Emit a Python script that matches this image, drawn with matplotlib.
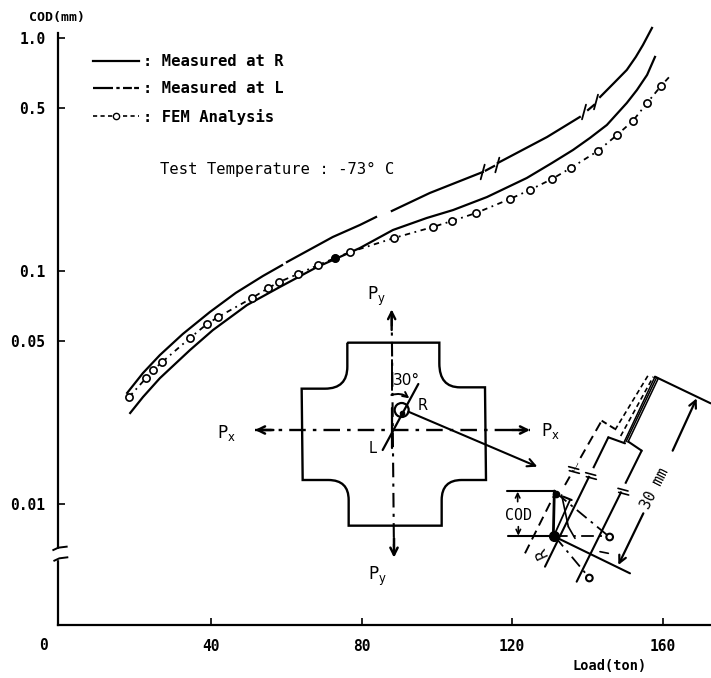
#!/usr/bin/env python

# COD against load, with the cruciform specimen sketch drawn on top

import numpy as np
import matplotlib
matplotlib.use("Agg")
import matplotlib.pyplot as plt
from matplotlib.lines import Line2D
from matplotlib.patches import PathPatch, Circle, Rectangle
from matplotlib.path import Path

plt.rcParams['font.family'] = ['DejaVu Sans Mono']
plt.rcParams['mathtext.fontset'] = 'custom'
plt.rcParams['mathtext.rm'] = 'DejaVu Sans'

W, H = 711, 678
nan = float('nan')

# upper curve, nan where the printed line is broken
load_l = [17.6, 21.8, 26.3, 32.4, 39.6, 46.5, 53.7, 58.8, nan, 60.1, 72.3, 79.5, 83.8, nan,
          88.0, 98.1, 112.2, nan, 113.0, 115.2, nan, 116.2, 129.3, 138.0, nan,
          140.2, 141.8, nan, 143.4, 147.1, 150.5, 152.9, 154.8, 157.2]
cod_l = [0.0300, 0.0365, 0.0436, 0.0537, 0.0667, 0.0806, 0.0952, 0.106, nan, 0.1093, 0.140, 0.1576, 0.1705, nan,
         0.181, 0.2162, 0.266, nan, 0.270, 0.282, nan, 0.2908, 0.3759, 0.458, nan,
         0.491, 0.516, nan, 0.558, 0.641, 0.729, 0.829, 0.933, 1.104]

# lower curve
load_r = [18.4, 21.8, 26.3, 34.3, 40.4, 49.5, 58.2, 68.1, 79.5, 88.3, 97.3, 104.3,
          113.3, 123.9, 130.6, 136.2, 140.7, 145.2, 150.5, 153.2, 155.9, 158.0]
cod_r = [0.0246, 0.0288, 0.0347, 0.0458, 0.0558, 0.0715, 0.0854, 0.104, 0.1255, 0.150, 0.1689, 0.1827,
         0.2077, 0.2507, 0.2908, 0.3307, 0.3723, 0.4233, 0.526, 0.598, 0.694, 0.829]

# FEM points
load_fem = [18.1, 22.6, 24.5, 26.9, 34.3, 38.8, 41.8, 50.8, 55.1, 58.0, 63.0, 68.4, 72.9, 76.9,
            88.6, 98.9, 104.0, 110.4, 119.4, 124.7, 130.6, 135.6, 142.8, 147.9, 152.1, 155.9, 159.6, 162.5]
cod_fem = [0.0288, 0.0347, 0.0376, 0.0407, 0.0516, 0.0592, 0.0635, 0.0766, 0.0845, 0.0897, 0.0971, 0.1061,
           0.1137, 0.1206, 0.1386, 0.1545, 0.1639, 0.1774, 0.2037, 0.2227, 0.2482, 0.2767, 0.3273, 0.3834,
           0.4403, 0.526, 0.6223, 0.700]
fem_last_marked = 26  # the final stretch has no circle

xticks = [40, 80, 120, 160]
yticks = [1.0, 0.5, 0.1, 0.05, 0.01]
ylabels = ['1.0', '0.5', '0.1', '0.05', '0.01']

fig = plt.figure(figsize=(W / 100, H / 100), dpi=100)
ax = fig.add_axes([58 / W, (H - 625) / H, (W - 58) / W, (625 - 33) / H])
ax.set_yscale('log')
ax.set_xlim(-0.8, 172.9)
ax.set_ylim(0.00303, 1.05)

line_kw = dict(color='black', lw=1.6, clip_on=False)
ax.plot(load_l, cod_l, **line_kw)
ax.plot(load_r, cod_r, **line_kw)
ax.plot(load_fem, cod_fem, color='black', lw=1.3, dashes=(3, 2.5, 1, 2.5), clip_on=False)
ax.plot(load_fem[:fem_last_marked + 1], cod_fem[:fem_last_marked + 1], ls='none', marker='o', ms=5.2,
        mfc='white', mec='black', mew=1.2, clip_on=False)
ax.plot(load_fem[12], cod_fem[12], ls='none', marker='o', ms=5, color='black')

ax.spines['top'].set_visible(False)
ax.spines['right'].set_visible(False)
ax.spines['left'].set_linewidth(1.6)
ax.spines['bottom'].set_linewidth(1.6)
ax.set_xticks(xticks)
ax.set_xticklabels([str(t) for t in xticks], fontsize=10.5, fontweight='bold')
ax.set_yticks(yticks)
ax.set_yticklabels(ylabels, fontsize=10.5, fontweight='bold')
ax.minorticks_off()
ax.tick_params(axis='y', which='major', direction='in', length=5, width=1.2, pad=9)
ax.tick_params(axis='x', which='major', direction='in', length=5, width=1.2, pad=10)

handles = [Line2D([], [], color='black', lw=1.6),
           Line2D([], [], color='black', lw=1.6, dashes=(9, 1.5, 1.5, 1.5, 4, 1)),
           Line2D([], [], color='black', lw=1.2, dashes=(2.5, 2), marker='o', ms=4.5,
                  mfc='white', mec='black', mew=1)]
labels = [': Measured at R', ': Measured at L', ': FEM Analysis']
leg = fig.legend(handles, labels, loc='upper left', bbox_to_anchor=(93 / W, 1 - 54 / H), frameon=False,
                 handlelength=2.95, handletextpad=0.25, labelspacing=0.8, borderpad=0, borderaxespad=0,
                 prop={'size': 11.2, 'weight': 'bold'})

fig.text(44 / W, 1 - 645 / H, '0', fontsize=10.5, fontweight='bold', ha='center', va='center')
fig.text(57 / W, 1 - 18 / H, 'COD(mm)', fontsize=9.5, fontweight='bold', ha='center', va='center')
fig.text(610 / W, 1 - 666 / H, 'Load(ton)', fontsize=9.8, fontweight='bold', ha='center', va='center')
fig.text(160 / W, 1 - 169 / H, 'Test Temperature : -73\u00b0 C', fontsize=11.2, ha='left', va='center')


def sketch_axes(x, y, w, h):
    # overlay whose units are 3x crop pixels of the reference
    a = fig.add_axes([x / W, 1 - (y + h) / H, w / W, h / H])
    a.set_xlim(0, w * 3)
    a.set_ylim(h * 3, 0)
    a.axis('off')
    a.patch.set_alpha(0)
    return a


def seg(a, x1, y1, x2, y2, ls='-', lw=1.5):
    a.plot([x1, x2], [y1, y2], color='black', ls=ls, lw=lw, solid_capstyle='round', clip_on=False)


def arrow(a, x1, y1, x2, y2, lw=1.6, ms=13, conn=None):
    a.annotate('', xy=(x2, y2), xytext=(x1, y1),
               arrowprops=dict(arrowstyle='->', color='black', lw=lw, mutation_scale=ms,
                               shrinkA=0, shrinkB=0, connectionstyle=conn or 'arc3'))


dashdot = (0, (7, 3, 1.5, 3))

# axis break and curve slashes, whole figure overlay
page = sketch_axes(0, 0, W, H)
page.add_patch(Rectangle((150, 1648), 60, 28, color='white', zorder=3))
page.plot([160, 175, 200], [1650, 1643, 1640], color='black', lw=1.4, zorder=4)
page.plot([163, 178, 202], [1682, 1675, 1672], color='black', lw=1.4, zorder=4)
for sx, sy in [(1448, 516), (1492, 495), (1752, 336), (1788, 306)]:
    seg(page, sx - 6, sy + 22, sx + 6, sy - 22, lw=1.3)

# specimen sketch
sp = sketch_axes(230, 280, 481, 340)
verts = [(352, 188), (628, 188), (628, 250), (628, 322), (690, 322), (765, 322), (768, 600), (695, 600),
         (635, 600), (635, 660), (635, 737), (356, 737), (356, 660), (356, 600), (295, 600), (218, 600),
         (215, 326), (285, 326), (352, 326), (352, 260), (352, 188)]
codes = [Path.MOVETO, Path.LINETO, Path.LINETO, Path.CURVE3, Path.CURVE3, Path.LINETO, Path.LINETO, Path.LINETO,
         Path.CURVE3, Path.CURVE3, Path.LINETO, Path.LINETO, Path.LINETO, Path.CURVE3, Path.CURVE3, Path.LINETO,
         Path.LINETO, Path.LINETO, Path.CURVE3, Path.CURVE3, Path.LINETO]
sp.add_patch(PathPatch(Path(verts, codes), fill=False, lw=1.7, ec='black'))

seg(sp, 75, 450, 900, 450, ls=dashdot, lw=1.7)
seg(sp, 485, 95, 492, 825, ls=dashdot, lw=1.5)
arrow(sp, 130, 450, 75, 450, lw=1.8)
arrow(sp, 845, 450, 900, 450, lw=1.8)
arrow(sp, 485, 150, 485, 88, lw=1.7)
arrow(sp, 492, 775, 492, 833, lw=1.8)
seg(sp, 485, 240, 485, 330, lw=1.4)
seg(sp, 487, 385, 487, 505, lw=1.6)
seg(sp, 458, 510, 565, 312, lw=1.6)
sp.add_patch(Circle((515, 390), 21, fill=False, lw=1.6, ec='black'))
sp.plot([515], [398], marker='o', ms=3, color='black')
arrow(sp, 484, 345, 538, 355, lw=1.4, ms=9, conn='arc3,rad=-0.25')
arrow(sp, 535, 395, 922, 560, lw=1.5, ms=14)

sp.text(530, 302, '30\u00b0', fontsize=11, ha='center', va='center', family='DejaVu Sans')
sp.text(578, 378, 'R', fontsize=10.5, ha='center', va='center', family='DejaVu Sans')
sp.text(428, 505, 'L', fontsize=10.5, ha='center', va='center', family='DejaVu Sans')
for tx, ty, s in [(440, 48, r'$\mathregular{P_y}$'), (443, 888, r'$\mathregular{P_y}$'),
                  (962, 452, r'$\mathregular{P_x}$'), (-10, 458, r'$\mathregular{P_x}$')]:
    sp.text(tx, ty, s, fontsize=12, ha='center', va='center', family='DejaVu Sans')

# detail of the crack tip
dt = sketch_axes(500, 360, 211, 240)
seg(dt, 135, 620, 325, 232)
seg(dt, 325, 232, 375, 250)
seg(dt, 385, 245, 425, 272)
seg(dt, 425, 272, 230, 665)
seg(dt, 195, 375, 305, 182, ls=(0, (5, 3)), lw=1.4)
seg(dt, 305, 182, 345, 207, ls=(0, (3, 2)), lw=1.4)
seg(dt, 75, 580, 160, 410, ls=(0, (5, 3)), lw=1.4)
seg(dt, 345, 210, 445, 45, ls=(0, (3, 2)), lw=1.2)
seg(dt, 362, 228, 460, 50, ls=(0, (3, 2)), lw=1.2)
seg(dt, 373, 245, 465, 50, lw=1.1)
seg(dt, 378, 245, 470, 52, lw=1.1)
seg(dt, 384, 246, 475, 55, lw=1.1)
seg(dt, 465, 50, 632, 130)
seg(dt, 160, 528, 390, 640)
arrow(dt, 518, 272, 590, 115)
arrow(dt, 430, 460, 355, 615)
dt.text(465, 385, '30 mm', fontsize=10.5, rotation=63, ha='center', va='center')
seg(dt, 20, 393, 165, 393)
seg(dt, 25, 527, 160, 527)
arrow(dt, 53, 425, 53, 395, ms=8, lw=1.2)
arrow(dt, 55, 500, 55, 527, ms=8, lw=1.2)
dt.text(55, 467, 'COD', fontsize=10.8, ha='center', va='center')
seg(dt, 163, 393, 160, 527, lw=2)
dt.plot([168], [402], marker='o', ms=4.5, color='black')
dt.plot([163], [528], marker='o', ms=7, color='black')
seg(dt, 170, 400, 325, 528, ls=dashdot, lw=1.3)
seg(dt, 165, 528, 320, 528, ls=dashdot, lw=1.3)
seg(dt, 165, 530, 265, 650, ls=dashdot, lw=1.3)
seg(dt, 190, 410, 215, 420)
seg(dt, 210, 420, 165, 520, lw=1.3)
seg(dt, 185, 405, 205, 500, lw=1.2)
seg(dt, 205, 500, 225, 535, lw=1.2)
seg(dt, 300, 575, 325, 580, lw=1.2)
for cx, cy in [(329, 531), (268, 654)]:
    dt.add_patch(Circle((cx, cy), 10, fc='white', ec='black', lw=1.5, zorder=3))
for bx, by in [(222, 330), (273, 348), (370, 395)]:
    dt.add_patch(Rectangle((bx - 10, by - 5), 22, 10, angle=-63, color='white', zorder=2))
    seg(dt, bx - 16, by - 10, bx + 14, by - 2, lw=1.2)
    seg(dt, bx - 14, by + 2, bx + 16, by + 10, lw=1.2)
dt.text(125, 578, 'R', fontsize=10.5, rotation=115, ha='center', va='center', family='DejaVu Sans')

plt.savefig("out.png", dpi=100)
